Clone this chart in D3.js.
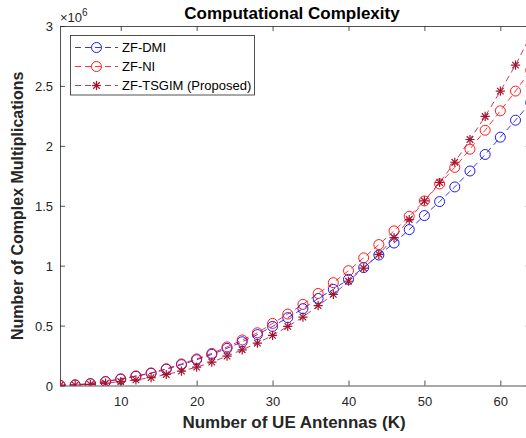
<!DOCTYPE html>
<html lang="en">
<head>
    <meta charset="UTF-8">
    <title>Computational Complexity</title>
    <style>
        body, html {
            margin: 0;
            background-color: #ffffff;
            font-family: "Liberation Sans", Arial, sans-serif;
        }
        svg text { fill: #262626; }
    </style>
    <script src="https://d3js.org/d3.v7.min.js"></script>
</head>
<body>
    <div id="chart"></div>
    <script>
        // number of UE antennas K
        const antennas = [2, 4, 6, 8, 10, 12, 14, 16, 18, 20, 22, 24, 26, 28, 30, 32,
                          34, 36, 38, 40, 42, 44, 46, 48, 50, 52, 54, 56, 58, 60, 62, 64];
        // complex multiplications, in units of 1e6
        const zfDmi = [0.001, 0.005, 0.015, 0.032, 0.053, 0.077, 0.102, 0.136, 0.174, 0.215, 0.260, 0.310,
                       0.365, 0.425, 0.493, 0.566, 0.641, 0.726, 0.802, 0.886, 0.984, 1.089, 1.189, 1.301,
                       1.418, 1.535, 1.657, 1.790, 1.928, 2.072, 2.214, 2.360];
        const zfNi = [0.001, 0.005, 0.016, 0.034, 0.056, 0.080, 0.105, 0.140, 0.180, 0.222, 0.268, 0.322,
                      0.380, 0.440, 0.518, 0.596, 0.677, 0.768, 0.858, 0.958, 1.065, 1.176, 1.290, 1.412,
                      1.540, 1.682, 1.820, 1.972, 2.130, 2.292, 2.457, 2.630];
        const zfTsgim = [0.0005, 0.003, 0.009, 0.019, 0.033, 0.047, 0.066, 0.092, 0.120, 0.153, 0.195, 0.245,
                         0.298, 0.354, 0.418, 0.493, 0.571, 0.666, 0.760, 0.870, 0.980, 1.095, 1.234, 1.385,
                         1.540, 1.694, 1.863, 2.053, 2.245, 2.457, 2.674, 2.920];
        const xTicks = [10, 20, 30, 40, 50, 60];
        const yTicks = [0, 0.5, 1, 1.5, 2, 2.5, 3];
        const seriesNames = ["ZF-DMI", "ZF-NI", "ZF-TSGIM (Proposed)"];

        const W = 526, H = 438;
        const mLeft = 60, mRight = 530.7, mTop = 26, mBottom = 385.5;

        const svg = d3.select("#chart").append("svg")
            .attr("width", W)
            .attr("height", H);

        const x = d3.scaleLinear().domain([2, 64]).range([mLeft, mRight]);
        const y = d3.scaleLinear().domain([0, 3]).range([mBottom, mTop]);

        const series = [
            { name: seriesNames[0], values: zfDmi, color: "#0000ff", marker: "circle" },
            { name: seriesNames[1], values: zfNi, color: "#ff0000", marker: "circle" },
            { name: seriesNames[2], values: zfTsgim, color: "#a2142f", marker: "star" }
        ];

        svg.append("clipPath").attr("id", "clip")
            .append("rect")
            .attr("x", mLeft).attr("y", mTop)
            .attr("width", mRight - mLeft).attr("height", mBottom - mTop);

        // axes box with inward ticks
        const axisColor = "#262626";
        const xb = svg.append("g").attr("transform", `translate(0,${mBottom})`)
            .call(d3.axisBottom(x).tickValues(xTicks).tickSizeInner(-5).tickSizeOuter(0).tickPadding(11));
        const xt = svg.append("g").attr("transform", `translate(0,${mTop})`)
            .call(d3.axisTop(x).tickValues(xTicks).tickSizeInner(-5).tickSizeOuter(0).tickFormat(""));
        const yl = svg.append("g").attr("transform", `translate(${mLeft},0)`)
            .call(d3.axisLeft(y).tickValues(yTicks).tickSizeInner(-5).tickSizeOuter(0).tickPadding(7)
                .tickFormat(d => d));
        const yr = svg.append("g").attr("transform", `translate(${mRight},0)`)
            .call(d3.axisRight(y).tickValues(yTicks).tickSizeInner(-5).tickSizeOuter(0).tickFormat(""));

        [xb, xt, yl, yr].forEach(g => {
            g.select(".domain").attr("stroke", axisColor).attr("stroke-width", 0.8);
            g.selectAll(".tick line").attr("stroke", axisColor).attr("stroke-width", 0.8);
            g.selectAll(".tick text")
                .attr("fill", axisColor)
                .style("font-family", "'Liberation Sans', Arial, sans-serif")
                .style("font-size", "13px");
        });
        yl.selectAll(".tick text").attr("dy", "0.35em");

        const plot = svg.append("g").attr("clip-path", "url(#clip)");

        const line = d3.line()
            .x((d, i) => x(antennas[i]))
            .y(d => y(d));

        function drawMarker(g, type, color) {
            if (type === "circle") {
                g.append("circle").attr("r", 5)
                    .attr("fill", "none").attr("stroke", color).attr("stroke-width", 0.9);
            } else {
                const r = 4.6;
                [0, 45, 90, 135].forEach(a => {
                    const rad = a * Math.PI / 180;
                    g.append("line")
                        .attr("x1", -r * Math.cos(rad)).attr("y1", -r * Math.sin(rad))
                        .attr("x2", r * Math.cos(rad)).attr("y2", r * Math.sin(rad))
                        .attr("stroke", color).attr("stroke-width", 1.2);
                });
            }
        }

        series.forEach(s => {
            plot.append("path")
                .datum(s.values)
                .attr("d", line)
                .attr("fill", "none")
                .attr("stroke", s.color)
                .attr("stroke-width", 0.8)
                .attr("stroke-dasharray", "6,4");
            s.values.forEach((v, i) => {
                const g = plot.append("g")
                    .attr("transform", `translate(${x(antennas[i])},${y(v)})`);
                drawMarker(g, s.marker, s.color);
            });
        });

        // exponent label
        const ex = svg.append("text")
            .attr("x", mLeft).attr("y", 22)
            .style("font-size", "13px");
        ex.append("tspan").text("×10");
        ex.append("tspan").attr("dy", -6).style("font-size", "10px").text("6");

        // title
        svg.append("text")
            .attr("x", 292).attr("y", 19)
            .attr("text-anchor", "middle")
            .style("font-size", "17px").style("font-weight", "bold")
            .style("fill", "#000")
            .text("Computational Complexity");

        // axis labels
        svg.append("text")
            .attr("x", 294).attr("y", 428)
            .attr("text-anchor", "middle")
            .style("font-size", "17px").style("font-weight", "bold")
            .text("Number of UE Antennas (K)");

        svg.append("text")
            .attr("transform", `translate(23,${(mTop + mBottom) / 2}) rotate(-90)`)
            .attr("text-anchor", "middle")
            .style("font-size", "16px").style("font-weight", "bold")
            .text("Number of Complex Multiplications");

        // legend
        const lg = svg.append("g");
        lg.append("rect")
            .attr("x", 70.5).attr("y", 35.5)
            .attr("width", 184).attr("height", 59.5)
            .attr("fill", "#fff").attr("stroke", axisColor).attr("stroke-width", 0.8);
        series.forEach((s, i) => {
            const yy = 47.5 + i * 19;
            lg.append("line")
                .attr("x1", 75).attr("x2", 118).attr("y1", yy).attr("y2", yy)
                .attr("stroke", s.color).attr("stroke-width", 0.8)
                .attr("stroke-dasharray", "6,4");
            const g = lg.append("g").attr("transform", `translate(96.5,${yy})`);
            drawMarker(g, s.marker, s.color);
            lg.append("text")
                .attr("x", 122).attr("y", yy).attr("dy", "0.35em")
                .style("font-size", "13px")
                .style("fill", "#000")
                .text(s.name);
        });
    </script>
</body>
</html>
